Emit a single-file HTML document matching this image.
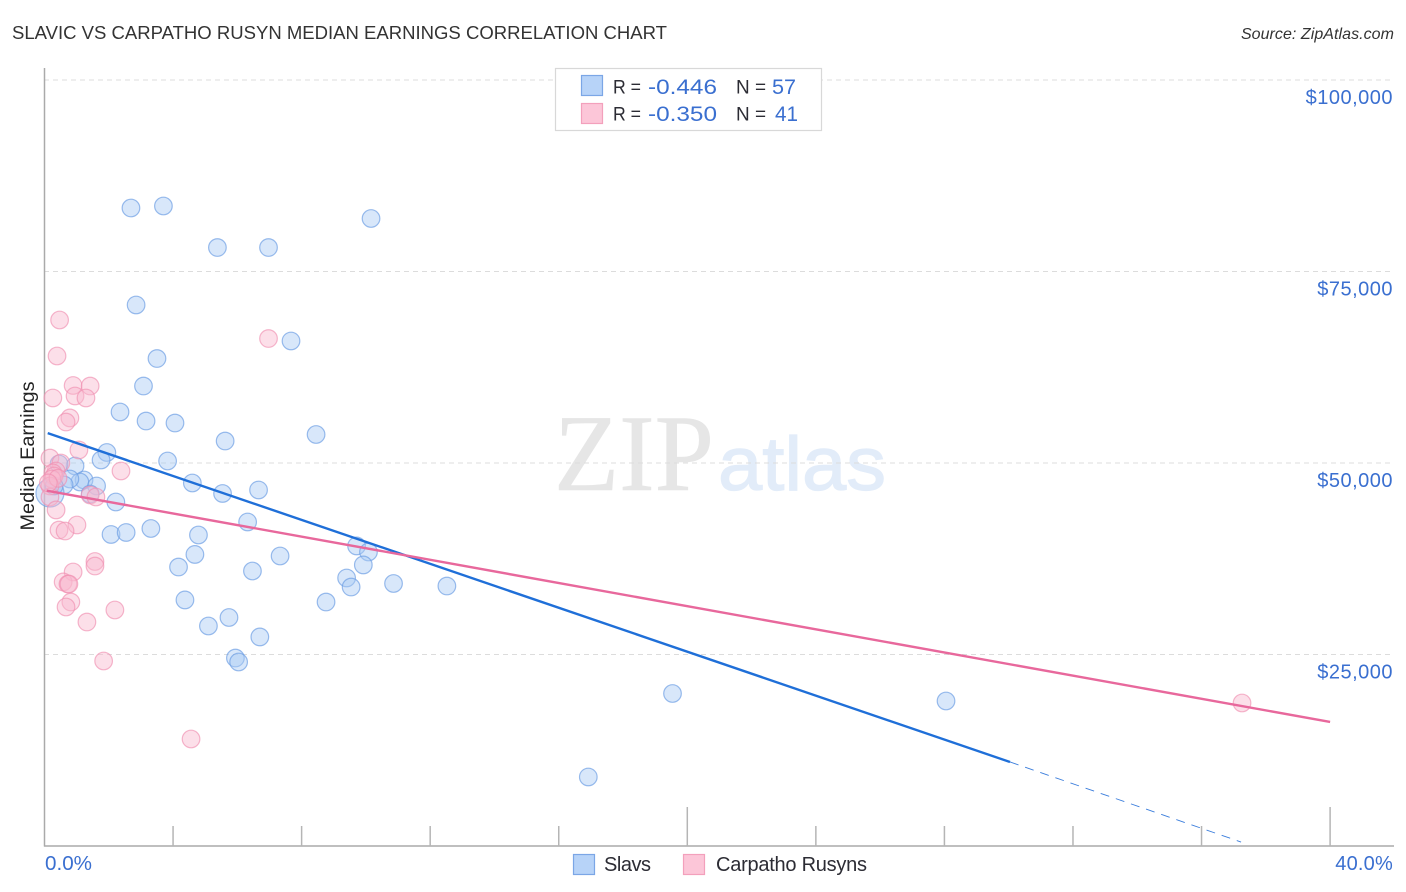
<!DOCTYPE html>
<html lang="en">
<head>
<meta charset="utf-8">
<title>Slavic vs Carpatho Rusyn Median Earnings Correlation Chart</title>
<style>
html,body{margin:0;padding:0;background:#fff;width:1406px;height:892px;overflow:hidden}
svg{display:block;font-family:"Liberation Sans",sans-serif}
.blue{fill:#3a6fd0}
.dark{fill:#2c2c34}
</style>
</head>
<body>
<svg id="chart" width="1406" height="892" viewBox="0 0 1406 892" xmlns="http://www.w3.org/2000/svg">
  <text x="12" y="39" font-size="18.5" fill="#333" textLength="655" lengthAdjust="spacingAndGlyphs">SLAVIC VS CARPATHO RUSYN MEDIAN EARNINGS CORRELATION CHART</text>
  <text x="1394" y="39" font-size="16" font-style="italic" fill="#333" text-anchor="end" letter-spacing="0.05">Source: ZipAtlas.com</text>

  <g>
    <text x="554" y="490" font-family="'Liberation Serif',serif" font-size="109" fill="#e6e6e6" stroke="#e6e6e6" stroke-width="0.6" textLength="160" lengthAdjust="spacingAndGlyphs">ZIP</text>
    <text x="718" y="490" font-size="76" fill="#e2ecf9" stroke="#e2ecf9" stroke-width="1.2" textLength="168" lengthAdjust="spacingAndGlyphs">atlas</text>
  </g>

  <g id="grid"></g>
  <g id="axes"></g>
  <g id="points"></g>
  <g id="trends"></g>
  <g id="ylabels"></g>

  <text transform="translate(34,456) rotate(-90)" font-size="19.5" fill="#222" text-anchor="middle" textLength="149" lengthAdjust="spacingAndGlyphs">Median Earnings</text>
  <text class="blue" x="45" y="870" font-size="20" textLength="47" lengthAdjust="spacingAndGlyphs">0.0%</text>
  <text class="blue" x="1393" y="870" font-size="20" text-anchor="end" letter-spacing="0.2">40.0%</text>

  <g>
    <rect x="555.5" y="68.5" width="266" height="62" fill="#fff" stroke="#d8d8d8" stroke-width="1.2"/>
    <rect x="581.5" y="75.5" width="21" height="20" fill="#b7d3f8" stroke="#7ba6e6" stroke-width="1.2"/>
    <rect x="581.5" y="103.5" width="21" height="20" fill="#fcc6d8" stroke="#f3a0bc" stroke-width="1.2"/>
    <text class="dark" x="613" y="93.5" font-size="19.5" textLength="28" lengthAdjust="spacingAndGlyphs">R =</text>
    <text class="blue" x="648" y="94" font-size="21.5" textLength="69" lengthAdjust="spacingAndGlyphs">-0.446</text>
    <text class="dark" x="736" y="93.5" font-size="19.5" textLength="30" lengthAdjust="spacingAndGlyphs">N =</text>
    <text class="blue" x="772" y="94" font-size="21.5" textLength="24" lengthAdjust="spacingAndGlyphs">57</text>
    <text class="dark" x="613" y="120.5" font-size="19.5" textLength="28" lengthAdjust="spacingAndGlyphs">R =</text>
    <text class="blue" x="648" y="121" font-size="21.5" textLength="69" lengthAdjust="spacingAndGlyphs">-0.350</text>
    <text class="dark" x="736" y="120.5" font-size="19.5" textLength="30" lengthAdjust="spacingAndGlyphs">N =</text>
    <text class="blue" x="775" y="121" font-size="21.5" textLength="23" lengthAdjust="spacingAndGlyphs">41</text>
  </g>

  <g>
    <rect x="573.5" y="854.5" width="21" height="20" fill="#b7d3f8" stroke="#7ba6e6" stroke-width="1.2"/>
    <text class="dark" x="604" y="871" font-size="20" textLength="47" lengthAdjust="spacing">Slavs</text>
    <rect x="683.5" y="854.5" width="21" height="20" fill="#fcc6d8" stroke="#f3a0bc" stroke-width="1.2"/>
    <text class="dark" x="716" y="871" font-size="20" textLength="151" lengthAdjust="spacing">Carpatho Rusyns</text>
  </g>
</svg>

<script>
const yTicks = [25000, 50000, 75000, 100000];
const yTickLabels = ["$25,000", "$50,000", "$75,000", "$100,000"];
const xTicks = [4, 8, 12, 16, 20, 24, 28, 32, 36, 40];
const xMajorTicks = [20, 40];

const slavsX = [2.69,3.70,5.38,6.97,10.16,2.85,7.67,3.50,3.08,2.35,3.16,4.06,5.62,8.45,1.94,1.76,3.83,0.95,0.45,4.60,5.54,6.66,1.23,1.10,0.79,0.61,1.62,1.42,2.22,2.07,2.54,3.31,4.79,6.32,4.68,4.17,6.47,7.33,9.71,10.08,9.92,9.40,9.54,10.86,12.52,8.76,4.37,5.74,5.10,6.70,5.94,6.04,19.54,28.05,16.92,0.17,0.30];
const slavsY = [83290,83550,78130,78130,81920,70630,65930,63640,60050,56660,55480,55220,52870,53720,51370,50390,50260,49610,49870,47390,46020,46480,47780,47520,47910,47130,47000,45950,44910,40670,40930,41450,40600,42300,38060,36420,35900,37860,39170,38380,36690,34990,33810,34270,33940,31850,32120,29830,28720,27290,24540,24020,19910,18930,9010,46080,47000];
const slavsR = [8.8,8.8,8.8,8.8,8.8,8.8,8.8,8.8,8.8,8.8,8.8,8.8,8.8,8.8,8.8,8.8,8.8,8.8,8.8,8.8,8.8,8.8,8.8,8.8,8.8,8.8,8.8,8.8,8.8,8.8,8.8,8.8,8.8,8.8,8.8,8.8,8.8,8.8,8.8,8.8,8.8,8.8,8.8,8.8,8.8,8.8,8.8,8.8,8.8,8.8,8.8,8.8,8.8,8.8,8.8,14,8.8];

const rusynsX = [0.47,0.39,0.89,1.42,0.26,0.95,1.29,0.79,0.67,1.07,0.17,0.51,2.38,0.36,0.26,0.30,0.23,0.17,0.17,0.36,1.42,1.60,1.01,0.45,0.64,1.57,1.57,0.89,0.58,0.73,0.76,0.82,0.67,2.19,1.32,1.84,4.56,6.97,37.26,0.42,0.12];
const rusynsY = [68670,63970,60120,60050,58490,58750,58490,55880,55350,51700,50650,50000,48960,48960,48700,48300,47910,47000,45560,43870,45820,45560,41910,41250,41120,37140,36550,35770,34470,34200,34200,31850,31200,30810,29240,24150,13970,66250,18670,48000,47400];

const slavsTrendX = [0.1, 30.04];
const slavsTrendY = [53900, 10970];
const slavsDashX = [30.04, 37.23];
const slavsDashY = [10970, 520];
const rusynsTrendX = [0.07, 40];
const rusynsTrendY = [46380, 16190];

const NS = "http://www.w3.org/2000/svg";
const xScale = function (v) { return 44.5 + v * 32.14; };
const yScale = function (v) { return 846 - v * 0.00766; };

function make(tag, attrs, parent) {
  const el = document.createElementNS(NS, tag);
  Object.keys(attrs).forEach(function (k) { el.setAttribute(k, attrs[k]); });
  parent.appendChild(el);
  return el;
}

const grid = document.getElementById("grid");
const axes = document.getElementById("axes");
const pts = document.getElementById("points");
const trends = document.getElementById("trends");
const ylabels = document.getElementById("ylabels");

yTicks.forEach(function (t, i) {
  const ln = make("line", {x1: 44, x2: 1394, y1: yScale(t), y2: yScale(t), stroke: "#dcdcdc", "stroke-width": 1, "stroke-dasharray": "5 4"}, grid);
  
  
  const tx = make("text", {x: 1393, y: yScale(t) + 24, "font-size": 20, "text-anchor": "end", fill: "#3a6fd0", "letter-spacing": 0.5}, ylabels);
  tx.textContent = yTickLabels[i];
  
  
});

const yAxisLine = make("line", {x1: 44.5, x2: 44.5, y1: 68, y2: 846.5, stroke: "#aaa", "stroke-width": 1.5}, axes);


const xAxisLine = make("line", {x1: 44, x2: 1394, y1: 846, y2: 846, stroke: "#aaa", "stroke-width": 1.5}, axes);



xTicks.forEach(function (t) {
  const top = xMajorTicks.indexOf(t) >= 0 ? 807 : 826;
  const ln = make("line", {x1: xScale(t), x2: xScale(t), y1: top, y2: 846, stroke: "#b5b5b5", "stroke-width": 1.5}, axes);
  
  
});

slavsX.forEach(function (x, i) {
  const c = make("circle", {cx: xScale(x), cy: yScale(slavsY[i]), r: slavsR[i], fill: "#a9c9f5", "fill-opacity": 0.45, stroke: "#6f9fe4", "stroke-opacity": 0.7, "stroke-width": 1.2}, pts);
  
  
});

rusynsX.forEach(function (x, i) {
  const c = make("circle", {cx: xScale(x), cy: yScale(rusynsY[i]), r: 8.8, fill: "#f9b9cf", "fill-opacity": 0.45, stroke: "#f08fb0", "stroke-opacity": 0.65, "stroke-width": 1.2}, pts);
  
  
});

const slavsTrend = make("line", {x1: xScale(slavsTrendX[0]), y1: yScale(slavsTrendY[0]), x2: xScale(slavsTrendX[1]), y2: yScale(slavsTrendY[1]), stroke: "#1f6fd8", "stroke-width": 2.4}, trends);


const slavsDash = make("line", {x1: xScale(slavsDashX[0]), y1: yScale(slavsDashY[0]), x2: xScale(slavsDashX[1]), y2: yScale(slavsDashY[1]), stroke: "#3a7ddc", "stroke-width": 0.9, "stroke-dasharray": "9 7"}, trends);


const rusynsTrend = make("line", {x1: xScale(rusynsTrendX[0]), y1: yScale(rusynsTrendY[0]), x2: xScale(rusynsTrendX[1]), y2: yScale(rusynsTrendY[1]), stroke: "#e8689c", "stroke-width": 2.4}, trends);


</script>
</body>
</html>
